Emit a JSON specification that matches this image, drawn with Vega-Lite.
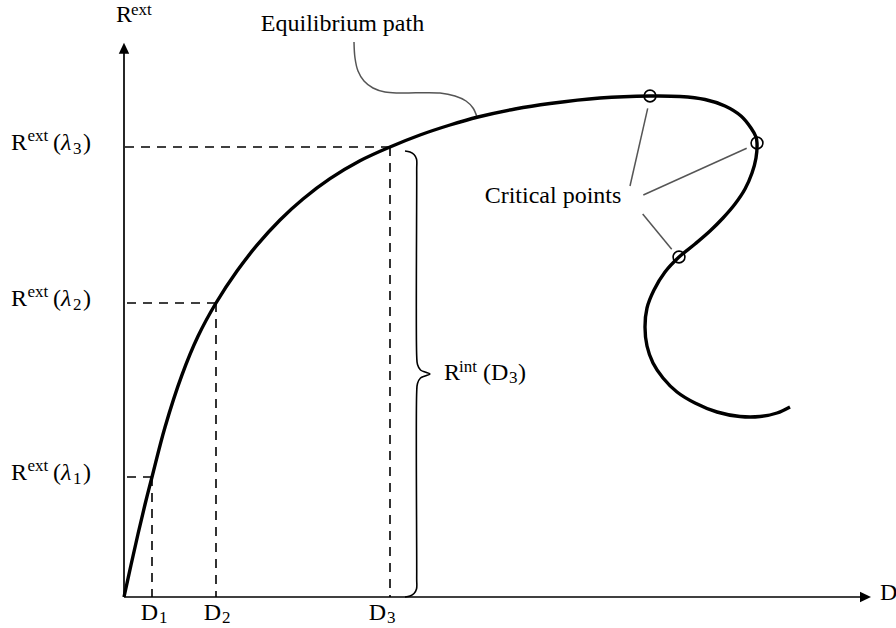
{
  "$schema": "https://vega.github.io/schema/vega-lite/v6.json",
  "width": 896,
  "height": 628,
  "autosize": "none",
  "padding": 0,
  "background": "white",
  "config": {
    "view": {"stroke": null},
    "mark": {"font": "Liberation Serif"},
    "text": {"font": "Liberation Serif", "fontSize": 24, "color": "black", "baseline": "alphabetic"}
  },
  "datasets": {
    "path": [
      {"i": 1, "D": 0, "R": 0},
      {"i": 2, "D": 0.07, "R": 0.32},
      {"i": 3, "D": 0.14, "R": 0.63},
      {"i": 4, "D": 0.21, "R": 0.925},
      {"i": 5, "D": 0.28, "R": 1.2},
      {"i": 6, "D": 0.41, "R": 1.698},
      {"i": 7, "D": 0.58, "R": 2.221},
      {"i": 8, "D": 0.74, "R": 2.607},
      {"i": 9, "D": 0.92, "R": 2.94},
      {"i": 10, "D": 1.13, "R": 3.259},
      {"i": 11, "D": 1.33, "R": 3.518},
      {"i": 12, "D": 1.56, "R": 3.77},
      {"i": 13, "D": 1.79, "R": 3.98},
      {"i": 14, "D": 2.06, "R": 4.183},
      {"i": 15, "D": 2.36, "R": 4.362},
      {"i": 16, "D": 2.66, "R": 4.5},
      {"i": 17, "D": 2.96, "R": 4.62},
      {"i": 18, "D": 3.26, "R": 4.72},
      {"i": 19, "D": 3.54, "R": 4.8},
      {"i": 20, "D": 3.91, "R": 4.88},
      {"i": 21, "D": 4.26, "R": 4.935},
      {"i": 22, "D": 4.76, "R": 4.99},
      {"i": 23, "D": 5.26, "R": 5.01},
      {"i": 24, "D": 5.56, "R": 5.005},
      {"i": 25, "D": 5.81, "R": 4.975},
      {"i": 26, "D": 6.01, "R": 4.91},
      {"i": 27, "D": 6.17, "R": 4.81},
      {"i": 28, "D": 6.27, "R": 4.69},
      {"i": 29, "D": 6.32, "R": 4.6},
      {"i": 30, "D": 6.33, "R": 4.54},
      {"i": 31, "D": 6.32, "R": 4.39},
      {"i": 32, "D": 6.28, "R": 4.24},
      {"i": 33, "D": 6.21, "R": 4.08},
      {"i": 34, "D": 6.11, "R": 3.93},
      {"i": 35, "D": 5.99, "R": 3.79},
      {"i": 36, "D": 5.86, "R": 3.66},
      {"i": 37, "D": 5.71, "R": 3.53},
      {"i": 38, "D": 5.55, "R": 3.4},
      {"i": 39, "D": 5.41, "R": 3.25},
      {"i": 40, "D": 5.3, "R": 3.07},
      {"i": 41, "D": 5.23, "R": 2.89},
      {"i": 42, "D": 5.21, "R": 2.7},
      {"i": 43, "D": 5.23, "R": 2.51},
      {"i": 44, "D": 5.29, "R": 2.34},
      {"i": 45, "D": 5.39, "R": 2.19},
      {"i": 46, "D": 5.53, "R": 2.05},
      {"i": 47, "D": 5.71, "R": 1.94},
      {"i": 48, "D": 5.93, "R": 1.85},
      {"i": 49, "D": 6.16, "R": 1.805},
      {"i": 50, "D": 6.36, "R": 1.805},
      {"i": 51, "D": 6.53, "R": 1.84},
      {"i": 52, "D": 6.66, "R": 1.9}
    ],
    "levels": [
      {"k": "1", "D": 0.28, "R": 1.2, "Dlab": 0.3},
      {"k": "2", "D": 0.92, "R": 2.94, "Dlab": 0.93},
      {"k": "3", "D": 2.66, "R": 4.5, "Dlab": 2.58}
    ],
    "critical": [
      {"D": 5.26, "R": 5.01},
      {"D": 6.33, "R": 4.54},
      {"D": 5.55, "R": 3.4}
    ],
    "pointers": [
      {"D": 5.06, "R": 4.11, "D2": 5.237, "R2": 4.887},
      {"D": 5.193, "R": 4.02, "D2": 6.227, "R2": 4.487},
      {"D": 5.187, "R": 3.83, "D2": 5.477, "R2": 3.477}
    ],
    "callout": [
      {"i": 1, "D": 2.3, "R": 5.55},
      {"i": 2, "D": 2.31, "R": 5.39},
      {"i": 3, "D": 2.34, "R": 5.26},
      {"i": 4, "D": 2.4, "R": 5.16},
      {"i": 5, "D": 2.49, "R": 5.09},
      {"i": 6, "D": 2.61, "R": 5.05},
      {"i": 7, "D": 2.76, "R": 5.04},
      {"i": 8, "D": 3.16, "R": 5.04},
      {"i": 9, "D": 3.31, "R": 5.01},
      {"i": 10, "D": 3.42, "R": 4.96},
      {"i": 11, "D": 3.49, "R": 4.89},
      {"i": 12, "D": 3.53, "R": 4.8}
    ],
    "brace": [
      {"i": 1, "D": 2.81, "R": 4.46},
      {"i": 2, "D": 2.86, "R": 4.45},
      {"i": 3, "D": 2.9, "R": 4.425},
      {"i": 4, "D": 2.925, "R": 4.38},
      {"i": 5, "D": 2.927, "R": 4.27},
      {"i": 6, "D": 2.927, "R": 2.41},
      {"i": 7, "D": 2.935, "R": 2.325},
      {"i": 8, "D": 2.965, "R": 2.27},
      {"i": 9, "D": 3.01, "R": 2.25},
      {"i": 10, "D": 3.06, "R": 2.23},
      {"i": 11, "D": 3.01, "R": 2.21},
      {"i": 12, "D": 2.965, "R": 2.19},
      {"i": 13, "D": 2.935, "R": 2.135},
      {"i": 14, "D": 2.927, "R": 2.05},
      {"i": 15, "D": 2.927, "R": 0.19},
      {"i": 16, "D": 2.925, "R": 0.08},
      {"i": 17, "D": 2.9, "R": 0.035},
      {"i": 18, "D": 2.86, "R": 0.01},
      {"i": 19, "D": 2.81, "R": 0}
    ],
    "axes": [
      {"D": 0, "R": 0, "D2": 7.4, "R2": 0},
      {"D": 0, "R": 0, "D2": 0, "R2": 5.45}
    ],
    "one": [{"n": 1}]
  },
  "layer": [
    {
      "data": {"name": "levels"},
      "mark": {"type": "rule", "color": "black", "strokeWidth": 1.6, "strokeDash": [9, 7]},
      "encoding": {
        "x": {"field": "D", "type": "quantitative", "scale": {"domain": [-1.24, 7.72], "nice": false, "zero": false}, "axis": null},
        "x2": {"datum": 0},
        "y": {"field": "R", "type": "quantitative", "scale": {"domain": [-0.31, 5.97], "nice": false, "zero": false}, "axis": null}
      }
    },
    {
      "data": {"name": "levels"},
      "mark": {"type": "rule", "color": "black", "strokeWidth": 1.6, "strokeDash": [9, 7]},
      "encoding": {
        "x": {"field": "D", "type": "quantitative", "scale": {"domain": [-1.24, 7.72], "nice": false, "zero": false}, "axis": null},
        "y": {"field": "R", "type": "quantitative", "scale": {"domain": [-0.31, 5.97], "nice": false, "zero": false}, "axis": null},
        "y2": {"datum": 0}
      }
    },
    {
      "data": {"name": "axes"},
      "mark": {"type": "rule", "color": "black", "strokeWidth": 1.7},
      "encoding": {
        "x": {"field": "D", "type": "quantitative", "scale": {"domain": [-1.24, 7.72], "nice": false, "zero": false}, "axis": null},
        "x2": {"field": "D2"},
        "y": {"field": "R", "type": "quantitative", "scale": {"domain": [-0.31, 5.97], "nice": false, "zero": false}, "axis": null},
        "y2": {"field": "R2"}
      }
    },
    {
      "data": {"name": "one"},
      "mark": {"type": "point", "filled": true, "color": "black", "opacity": 1, "size": 121, "shape": "M1,0L-1,-0.95L-1,0.95Z"},
      "encoding": {
        "x": {"datum": 7.415, "type": "quantitative", "scale": {"domain": [-1.24, 7.72], "nice": false, "zero": false}, "axis": null},
        "y": {"datum": 0, "type": "quantitative", "scale": {"domain": [-0.31, 5.97], "nice": false, "zero": false}, "axis": null}
      }
    },
    {
      "data": {"name": "one"},
      "mark": {"type": "point", "filled": true, "color": "black", "opacity": 1, "size": 121, "shape": "M0,-1L-0.95,1L0.95,1Z"},
      "encoding": {
        "x": {"datum": 0, "type": "quantitative", "scale": {"domain": [-1.24, 7.72], "nice": false, "zero": false}, "axis": null},
        "y": {"datum": 5.488, "type": "quantitative", "scale": {"domain": [-0.31, 5.97], "nice": false, "zero": false}, "axis": null}
      }
    },
    {
      "data": {"name": "brace"},
      "mark": {"type": "line", "color": "black", "strokeWidth": 1.6, "interpolate": "catmull-rom"},
      "encoding": {
        "x": {"field": "D", "type": "quantitative", "scale": {"domain": [-1.24, 7.72], "nice": false, "zero": false}, "axis": null},
        "y": {"field": "R", "type": "quantitative", "scale": {"domain": [-0.31, 5.97], "nice": false, "zero": false}, "axis": null},
        "order": {"field": "i", "type": "quantitative"}
      }
    },
    {
      "data": {"name": "callout"},
      "mark": {"type": "line", "color": "#555555", "strokeWidth": 1.5, "interpolate": "catmull-rom"},
      "encoding": {
        "x": {"field": "D", "type": "quantitative", "scale": {"domain": [-1.24, 7.72], "nice": false, "zero": false}, "axis": null},
        "y": {"field": "R", "type": "quantitative", "scale": {"domain": [-0.31, 5.97], "nice": false, "zero": false}, "axis": null},
        "order": {"field": "i", "type": "quantitative"}
      }
    },
    {
      "data": {"name": "pointers"},
      "mark": {"type": "rule", "color": "#555555", "strokeWidth": 1.5},
      "encoding": {
        "x": {"field": "D", "type": "quantitative", "scale": {"domain": [-1.24, 7.72], "nice": false, "zero": false}, "axis": null},
        "x2": {"field": "D2"},
        "y": {"field": "R", "type": "quantitative", "scale": {"domain": [-0.31, 5.97], "nice": false, "zero": false}, "axis": null},
        "y2": {"field": "R2"}
      }
    },
    {
      "data": {"name": "path"},
      "mark": {"type": "line", "color": "black", "strokeWidth": 3.4, "interpolate": "catmull-rom"},
      "encoding": {
        "x": {"field": "D", "type": "quantitative", "scale": {"domain": [-1.24, 7.72], "nice": false, "zero": false}, "axis": null},
        "y": {"field": "R", "type": "quantitative", "scale": {"domain": [-0.31, 5.97], "nice": false, "zero": false}, "axis": null},
        "order": {"field": "i", "type": "quantitative"}
      }
    },
    {
      "data": {"name": "critical"},
      "mark": {"type": "point", "shape": "circle", "filled": false, "color": "black", "opacity": 1, "strokeWidth": 1.6, "size": 140},
      "encoding": {
        "x": {"field": "D", "type": "quantitative", "scale": {"domain": [-1.24, 7.72], "nice": false, "zero": false}, "axis": null},
        "y": {"field": "R", "type": "quantitative", "scale": {"domain": [-0.31, 5.97], "nice": false, "zero": false}, "axis": null}
      }
    },
    {
      "data": {"name": "levels"},
      "layer": [
        {"mark": {"type": "text", "text": "R", "align": "left", "dx": -113, "dy": 3}},
        {"mark": {"type": "text", "text": "ext", "align": "left", "fontSize": 17, "dx": -96.5, "dy": -6}},
        {"mark": {"type": "text", "text": "(", "align": "left", "dx": -71, "dy": 3}},
        {"mark": {"type": "text", "text": "λ", "align": "left", "fontStyle": "italic", "dx": -63, "dy": 3}},
        {"mark": {"type": "text", "align": "left", "fontSize": 17, "dx": -51, "dy": 7}, "encoding": {"text": {"field": "k", "type": "nominal"}}},
        {"mark": {"type": "text", "text": ")", "align": "left", "dx": -41, "dy": 3}}
      ],
      "encoding": {
        "x": {"datum": 0, "type": "quantitative", "scale": {"domain": [-1.24, 7.72], "nice": false, "zero": false}, "axis": null},
        "y": {"field": "R", "type": "quantitative", "scale": {"domain": [-0.31, 5.97], "nice": false, "zero": false}, "axis": null}
      }
    },
    {
      "data": {"name": "levels"},
      "layer": [
        {"mark": {"type": "text", "text": "D", "align": "right", "dx": 4}},
        {"mark": {"type": "text", "align": "left", "fontSize": 17, "dx": 5, "dy": 3}, "encoding": {"text": {"field": "k", "type": "nominal"}}}
      ],
      "encoding": {
        "x": {"field": "Dlab", "type": "quantitative", "scale": {"domain": [-1.24, 7.72], "nice": false, "zero": false}, "axis": null},
        "y": {"datum": -0.23, "type": "quantitative", "scale": {"domain": [-0.31, 5.97], "nice": false, "zero": false}, "axis": null}
      }
    },
    {
      "data": {"name": "one"},
      "layer": [
        {"mark": {"type": "text", "text": "R", "align": "left", "dx": -8}},
        {"mark": {"type": "text", "text": "ext", "align": "left", "fontSize": 17, "dx": 7, "dy": -7}}
      ],
      "encoding": {
        "x": {"datum": 0, "type": "quantitative", "scale": {"domain": [-1.24, 7.72], "nice": false, "zero": false}, "axis": null},
        "y": {"datum": 5.753, "type": "quantitative", "scale": {"domain": [-0.31, 5.97], "nice": false, "zero": false}, "axis": null}
      }
    },
    {
      "data": {"name": "one"},
      "mark": {"type": "text", "text": "D", "align": "left"},
      "encoding": {
        "x": {"datum": 7.56, "type": "quantitative", "scale": {"domain": [-1.24, 7.72], "nice": false, "zero": false}, "axis": null},
        "y": {"datum": -0.03, "type": "quantitative", "scale": {"domain": [-0.31, 5.97], "nice": false, "zero": false}, "axis": null}
      }
    },
    {
      "data": {"name": "one"},
      "mark": {"type": "text", "text": "Equilibrium path", "align": "center"},
      "encoding": {
        "x": {"datum": 2.185, "type": "quantitative", "scale": {"domain": [-1.24, 7.72], "nice": false, "zero": false}, "axis": null},
        "y": {"datum": 5.66, "type": "quantitative", "scale": {"domain": [-0.31, 5.97], "nice": false, "zero": false}, "axis": null}
      }
    },
    {
      "data": {"name": "one"},
      "mark": {"type": "text", "text": "Critical points", "align": "center"},
      "encoding": {
        "x": {"datum": 4.29, "type": "quantitative", "scale": {"domain": [-1.24, 7.72], "nice": false, "zero": false}, "axis": null},
        "y": {"datum": 3.94, "type": "quantitative", "scale": {"domain": [-0.31, 5.97], "nice": false, "zero": false}, "axis": null}
      }
    },
    {
      "data": {"name": "one"},
      "layer": [
        {"mark": {"type": "text", "text": "R", "align": "left", "dx": 14, "dy": 5.5}},
        {"mark": {"type": "text", "text": "int", "align": "left", "fontSize": 17, "dx": 29, "dy": -2.5}},
        {"mark": {"type": "text", "text": "(", "align": "left", "dx": 53, "dy": 5.5}},
        {"mark": {"type": "text", "text": "D", "align": "left", "dx": 61, "dy": 5.5}},
        {"mark": {"type": "text", "text": "3", "align": "left", "fontSize": 17, "dx": 79, "dy": 9}},
        {"mark": {"type": "text", "text": ")", "align": "left", "dx": 88, "dy": 5.5}}
      ],
      "encoding": {
        "x": {"datum": 3.06, "type": "quantitative", "scale": {"domain": [-1.24, 7.72], "nice": false, "zero": false}, "axis": null},
        "y": {"datum": 2.23, "type": "quantitative", "scale": {"domain": [-0.31, 5.97], "nice": false, "zero": false}, "axis": null}
      }
    }
  ]
}
